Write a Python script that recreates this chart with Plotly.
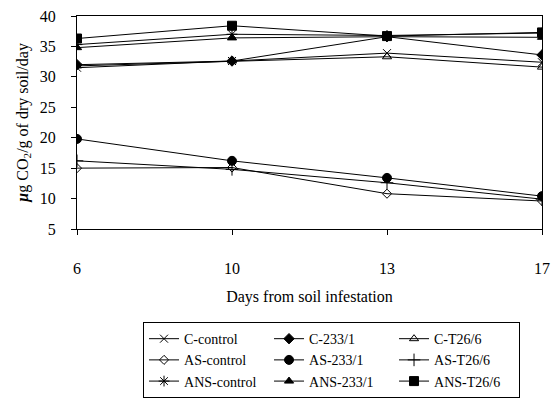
import plotly.graph_objects as go

days = ['6', '10', '13', '17']
series_names = ['C-control', 'C-233/1', 'C-T26/6',
                'AS-control', 'AS-233/1', 'AS-T26/6',
                'ANS-control', 'ANS-233/1', 'ANS-T26/6']
C_control = [31.5, 32.6, 33.9, 32.4]
C_233 = [32.0, 32.6, 36.6, 33.6]
C_T26 = [31.8, 32.6, 33.3, 31.6]
AS_control = [15.0, 15.1, 10.8, 9.6]
AS_233 = [19.8, 16.2, 13.4, 10.4]
AS_T26 = [16.2, 14.8, 12.6, 9.9]
ANS_control = [35.3, 37.0, 36.8, 37.2]
ANS_233 = [34.8, 36.4, 36.6, 36.5]
ANS_T26 = [36.3, 38.4, 36.7, 37.3]
y_ticks = [5, 10, 15, 20, 25, 30, 35, 40]

values = [C_control, C_233, C_T26, AS_control, AS_233, AS_T26,
          ANS_control, ANS_233, ANS_T26]
symbols = ['x-thin-open', 'diamond', 'triangle-up-open',
           'diamond-open', 'circle', 'cross-thin-open',
           'asterisk-open', 'triangle-up', 'square']
sizes = [8, 8, 8, 7, 9, 9, 9, 8, 9]

FONT = 'Liberation Serif, Times New Roman, serif'

fig = go.Figure()
for name, vals, sym, sz in zip(series_names, values, symbols, sizes):
    fig.add_trace(go.Scatter(
        x=days, y=vals, name=name, mode='lines+markers',
        line=dict(color='black', width=1),
        marker=dict(symbol=sym, size=sz, color='black',
                    line=dict(color='black', width=1)),
    ))

fig.update_layout(
    width=555, height=400,
    margin=dict(l=77, r=13, t=16, b=171, autoexpand=False),
    paper_bgcolor='white', plot_bgcolor='white',
    font=dict(family=FONT, size=16, color='black'),
    showlegend=True,
    legend=dict(
        orientation='h', x=0.142, xanchor='left', y=-0.437, yanchor='top',
        entrywidth=80, entrywidthmode='pixels',
        bordercolor='black', borderwidth=1,
        font=dict(family=FONT, size=14, color='black'),
        itemwidth=30, tracegroupgap=0,
    ),
    xaxis=dict(
        type='category', categoryarray=days, range=[0, 3],
        showgrid=False, zeroline=False,
        showline=True, linecolor='black', linewidth=1, mirror=True,
        ticks='outside', ticklen=5, tickcolor='black',
        ticklabelstandoff=20,
        title=dict(text='Days from soil infestation', standoff=14,
                   font=dict(family=FONT, size=16)),
    ),
    yaxis=dict(
        range=[5, 40], tickvals=y_ticks,
        showgrid=False, zeroline=False,
        showline=True, linecolor='black', linewidth=1, mirror=True,
        ticks='outside', ticklen=5, tickcolor='black',
        ticklabelstandoff=12,
        title=dict(text='<b><i>µ</i></b>g CO<sub>2</sub>/g of dry soil/day',
                   standoff=7, font=dict(family=FONT, size=16)),
    ),
    xaxis2=dict(overlaying='x', range=[0, 3], tickvals=[0, 1, 2, 3],
                ticks='inside', ticklen=5, tickcolor='black',
                showticklabels=False, showgrid=False, zeroline=False,
                showline=False, side='bottom', anchor='y'),
    yaxis2=dict(overlaying='y', range=[5, 40], tickvals=y_ticks,
                ticks='inside', ticklen=5, tickcolor='black',
                showticklabels=False, showgrid=False, zeroline=False,
                showline=False, side='left', anchor='x'),
)

fig.write_html('out.html',
               config={'displayModeBar': False},
               post_script="document.body.style.margin='0';document.body.style.overflow='hidden';")
